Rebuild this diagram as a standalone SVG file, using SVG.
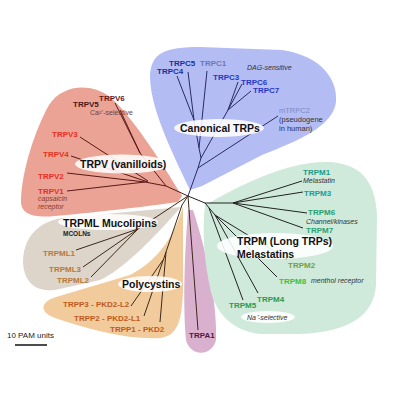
<svg xmlns="http://www.w3.org/2000/svg" width="400" height="400" viewBox="0 0 400 400">
<style>
text{font-family:"Liberation Sans",Arial,sans-serif}
.lb{font-size:8px;font-weight:bold}
.it{font-size:7px;font-style:italic;fill:#333}
.rg{font-size:7.5px;fill:#333}
.big{font-size:10.5px;font-weight:bold;fill:#111}
.el{fill:#fff;fill-opacity:0.88}
.br{fill:none;stroke-width:1}
</style>
<rect width="400" height="400" fill="#fff"/>
<g id="regions">
<path id="r-canonical" d="M190,190 C176,160 151,112 150,78 C150,52 166,47 200,47 L282,50 C322,56 338,80 336,102 C333,126 300,140 262,155 L202,186 Z" fill="#b4bdf3"/>
<path id="r-trpv" d="M182,196 C160,160 132,116 110,97 C90,82 62,85 49,105 C35,130 22,170 21,200 C20,215 35,218 55,216 C100,212 150,206 178,202 Z" fill="#eaa395"/>
<path id="r-trpml" d="M181,207 L62,218 C36,222 23,240 23,262 C24,282 35,292 55,290 L100,280 C122,270 152,240 181,207 Z" fill="#ddd4ca"/>
<path id="r-trpp" d="M183,206 C176,232 160,260 130,275 L56,297 C40,302 39,312 55,318 C90,330 130,340 160,338 C178,336 182,320 183,290 Z" fill="#f2cb9c"/>
<path id="r-trpa" d="M188,210 C184,260 183,310 186,340 C190,357 212,357 216,340 C217,300 206,250 193,210 Z" fill="#dab0cf"/>
<path id="r-trpm" d="M205,205 C240,185 290,160 330,162 C360,164 375,180 377,215 L376,285 C374,315 350,332 300,334 L262,334 C232,332 216,312 211,292 C204,262 202,232 205,205 Z" fill="#cfeadb"/>
</g>
<g id="connectors" class="br">
<g stroke="#2a2a66">
<path d="M188,196 L198,168 L278,116"/>
<path d="M198,168 L201,158 L228,110 L238,82"/>
<path d="M228,110 L242,84"/>
<path d="M228,110 L251,91"/>
<path d="M201,158 L199,148 L207,71"/>
<path d="M199,148 L194,120 L177,76"/>
<path d="M194,120 L188,72"/>
</g>
<g stroke="#5a1818">
<path d="M188,196 L166,186 L140,153 L115,103"/>
<path d="M140,153 L120,110"/>
<path d="M166,186 L145,182 L67,173"/>
<path d="M145,182 L67,191"/>
<path d="M148,181 L80,137"/>
<path d="M148,182 L71,156"/>
</g>
<g stroke="#3a2a1a">
<path d="M188,196 L138,229 L76,250"/>
<path d="M138,229 L83,267"/>
<path d="M138,229 L91,277"/>
<path d="M188,196 L182,205 L166,252 L160,322"/>
<path d="M166,252 L144,316"/>
<path d="M163,260 L131,306"/>
<path d="M188,196 L198,330"/>
</g>
<g stroke="#222">
<path d="M188,196 L205,203 L233,203 L302,181"/>
<path d="M233,203 L303,192"/>
<path d="M233,203 L307,213"/>
<path d="M233,203 L303,228"/>
<path d="M205,203 L215,215 L287,259"/>
<path d="M215,215 L277,277"/>
<path d="M215,215 L258,293"/>
<path d="M209,208 L243,300"/>
</g>
</g>
<g id="canonical">
<ellipse class="el" cx="219" cy="128" rx="45" ry="9"/>
<text class="big" x="180" y="132">Canonical TRPs</text>
<text class="lb" x="169" y="66" fill="#1c2f99">TRPC5</text>
<text class="lb" x="157" y="74" fill="#1c2f99">TRPC4</text>
<text class="lb" x="200" y="66" fill="#6a78b8">TRPC1</text>
<text class="it" x="247" y="70">DAG-sensitive</text>
<text class="lb" x="213" y="80" fill="#2438c8">TRPC3</text>
<text class="lb" x="241" y="85" fill="#2438c8">TRPC6</text>
<text class="lb" x="253" y="93" fill="#2438c8">TRPC7</text>
<text class="rg" x="279" y="113" style="fill:#8088c0">mTRPC2</text>
<text class="rg" x="279" y="122">(pseudogene</text>
<text class="rg" x="279" y="131">in human)</text>
</g>
<g id="trpv">
<ellipse class="el" cx="122" cy="164" rx="47" ry="9.5"/>
<text class="big" x="80" y="168">TRPV (vanilloids)</text>
<text class="lb" x="99" y="101" fill="#6a1a1a">TRPV6</text>
<text class="lb" x="73" y="107" fill="#4a1515">TRPV5</text>
<text class="rg" x="90" y="115" style="fill:#704040;font-size:7px">Ca²⁺-selective</text>
<text class="lb" x="52" y="137" fill="#e8301e">TRPV3</text>
<text class="lb" x="43" y="157" fill="#e8301e">TRPV4</text>
<text class="lb" x="38" y="179" fill="#e8301e">TRPV2</text>
<text class="lb" x="38" y="194" fill="#e8301e">TRPV1</text>
<text class="it" x="38" y="201" style="fill:#8a3a30">capsaicin</text>
<text class="it" x="38" y="209" style="fill:#8a3a30">receptor</text>
</g>
<g id="trpml">
<ellipse class="el" cx="108" cy="222" rx="50" ry="8"/>
<text class="big" x="63" y="226.5">TRPML Mucolipins</text>
<text x="63" y="236" style="font-size:6.5px;font-weight:bold;fill:#222">MCOLNs</text>
<text class="lb" x="43" y="256" fill="#b8793a">TRPML1</text>
<text class="lb" x="49" y="272" fill="#b8793a">TRPML3</text>
<text class="lb" x="57" y="283" fill="#b8793a">TRPML2</text>
</g>
<g id="polycystins">
<ellipse class="el" cx="150" cy="284" rx="32" ry="8"/>
<text class="big" x="122" y="288">Polycystins</text>
<text class="lb" x="63" y="306.5" fill="#c05a1a">TRPP3 - PKD2-L2</text>
<text class="lb" x="74" y="320.5" fill="#c05a1a">TRPP2 - PKD2-L1</text>
<text class="lb" x="110" y="331.5" fill="#c05a1a">TRPP1 - PKD2</text>
</g>
<g id="trpa">
<text class="lb" x="189" y="338" fill="#4a1a40">TRPA1</text>
</g>
<g id="trpm">
<ellipse class="el" cx="275" cy="246" rx="58" ry="13"/>
<text class="big" x="237" y="245">TRPM (Long TRPs)</text>
<text class="big" x="237" y="258">Melastatins</text>
<text class="lb" x="303" y="175" fill="#1a9a8a">TRPM1</text>
<text class="it" x="303" y="183">Melastatin</text>
<text class="lb" x="304" y="196" fill="#1a9a9a">TRPM3</text>
<text class="lb" x="308" y="215" fill="#2aa070">TRPM6</text>
<text class="it" x="306" y="223.5">Channel/kinases</text>
<text class="lb" x="306" y="233" fill="#2aa070">TRPM7</text>
<text class="lb" x="288" y="268" fill="#7aa030">TRPM2</text>
<text class="lb" x="279" y="284" fill="#3cc03c">TRPM8</text>
<text class="it" x="311" y="283">menthol receptor</text>
<text class="lb" x="257" y="302" fill="#2a9a50">TRPM4</text>
<text class="lb" x="229" y="308" fill="#2a9a50">TRPM5</text>
<ellipse class="el" cx="268" cy="317" rx="27" ry="6"/>
<text class="it" x="247" y="320">Na⁺-selective</text>
</g>
<g id="scale">
<text x="7" y="338" style="font-size:8px;fill:#222">10 PAM units</text>
<line x1="15" y1="345" x2="47" y2="345" stroke="#111" stroke-width="1.5"/>
</g>
</svg>
